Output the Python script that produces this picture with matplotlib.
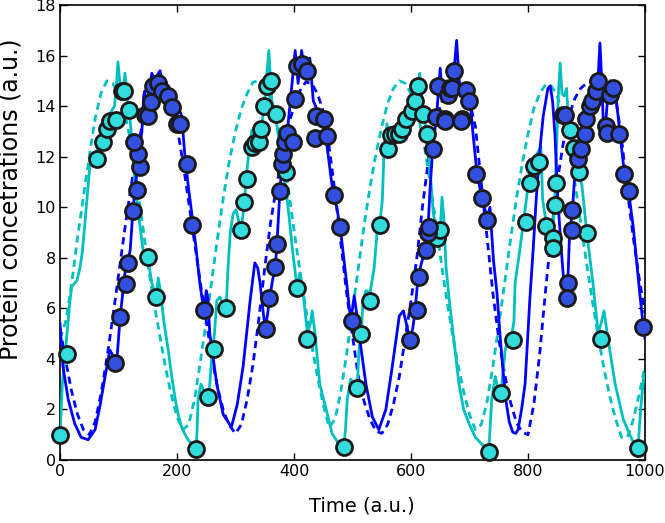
import matplotlib
matplotlib.use("Agg")
import matplotlib.pyplot as plt

# ---- deterministic (dashed) model curves, sampled every 10 time units ----
det_t = list(range(0, 1001, 10))
det_cyan = [4.8, 5.5, 7.0, 8.8, 10.4, 12.0, 13.5, 14.5, 15.0, 14.9,
            14.5, 13.8, 12.7, 11.2, 9.5, 7.8, 6.3, 5.0, 3.7, 2.6,
            1.7, 1.2, 1.4, 2.4, 3.9, 5.5, 7.2, 8.9, 10.5, 11.9,
            13.0, 13.9, 14.5, 14.95, 15.0, 14.8, 14.3, 13.5, 12.3, 10.8,
            9.1, 7.5, 6.0, 4.6, 3.3, 2.2, 1.3, 1.6, 2.7, 4.2,
            5.9, 7.6, 9.3, 10.8, 12.1, 13.2, 14.1, 14.7, 15.0, 14.9,
            14.5, 13.8, 12.8, 11.4, 9.8, 8.1, 6.5, 5.1, 3.8, 2.7,
            1.8, 1.2, 1.4, 2.3, 3.7, 5.3, 7.0, 8.7, 10.3, 11.7,
            12.9, 13.9, 14.5, 14.85, 14.8, 14.4, 13.6, 12.5, 11.0, 9.4,
            7.8, 6.3, 4.9, 3.6, 2.5, 1.6, 0.9, 0.9, 1.6, 2.6, 3.7]
det_blue = [5.2, 3.9, 2.7, 1.8, 1.2, 1.0, 1.5, 2.6, 4.0, 5.6,
            7.3, 9.0, 10.6, 12.0, 13.2, 14.3, 14.9, 15.0, 14.8, 14.3,
            13.2, 11.8, 10.2, 8.6, 7.0, 5.5, 4.0, 2.8, 1.9, 1.35,
            1.05, 1.4, 2.4, 3.8, 5.6, 7.6, 9.4, 10.8, 12.1, 13.2,
            14.0, 14.6, 14.95, 14.9, 14.5, 13.8, 12.4, 10.6, 8.6, 6.6,
            4.9, 3.3, 2.3, 1.6, 1.15, 1.05, 1.4, 2.2, 3.3, 4.8,
            6.3, 8.0, 10.1, 11.9, 13.1, 14.0, 14.6, 14.9, 15.0, 14.8,
            14.2, 13.2, 11.0, 8.8, 6.6, 4.8, 3.4, 2.3, 1.5, 1.1,
            1.0, 2.2, 4.2, 6.7, 9.0, 11.0, 12.5, 13.6, 14.3, 14.7,
            14.9, 15.0, 15.0, 14.8, 15.0, 14.3, 12.7, 10.6, 8.8, 7.2, 5.8]

# ---- stochastic (solid) trajectories ----
sto_blue_t = [0, 5, 14, 25, 36, 48, 60, 68, 77, 85, 89, 94, 98, 103, 111, 116, 120,
              125, 130, 136, 140, 143, 145, 147, 152, 157, 162, 166, 171, 176, 180,
              191, 202, 208, 214, 220, 225, 232, 239, 244, 247, 250, 253, 256, 262,
              268, 279, 293, 303, 313, 320, 325, 333, 338, 342, 347, 351, 355, 359,
              364, 368, 371, 376, 381, 388, 393, 398, 402, 407, 413, 419, 423, 427,
              433, 437, 441, 450, 456, 461, 467, 473, 479, 485, 490, 497, 503, 507,
              511, 517, 523, 534, 545, 557, 568, 580, 587, 593, 598, 603, 607, 612,
              618, 624, 629, 632, 637, 644, 650, 654, 661, 667, 672, 678, 684, 689,
              695, 701, 706, 713, 721, 730, 735, 741, 747, 752, 757, 762, 768, 774,
              779, 783, 789, 795, 803, 809, 814, 820, 826, 834, 838, 842, 846, 851,
              857, 862, 865, 868, 871, 876, 880, 885, 890, 895, 900, 906, 911, 917,
              920, 923, 926, 929, 933, 937, 941, 946, 950, 954, 963, 971, 980, 991,
              997, 1000]
sto_blue_y = [5.4, 3.7, 2.4, 1.45, 0.9, 0.8, 1.2, 2.1, 3.3, 4.35, 4.2, 3.8, 4.2, 5.7, 7.4, 7.9, 8.3,
              10.0, 11.1, 12.3, 13.0, 14.4, 14.6, 13.8, 14.5, 15.3, 15.0, 15.2, 15.4, 14.8, 15.0,
              14.4, 14.0, 13.6, 11.9, 10.7, 9.8, 8.5, 7.0, 6.2, 6.0, 6.7, 6.4, 5.0, 4.0,
              3.0, 1.8, 1.3, 2.2, 3.7, 5.2, 6.3, 7.8, 7.6, 7.0, 5.9, 5.2, 5.8, 6.5,
              7.2, 7.6, 8.6, 10.7, 12.1, 12.9, 14.0, 15.2, 16.2, 14.9, 16.2, 15.2, 15.4, 15.9,
              14.2, 14.0, 13.7, 13.2, 12.5, 11.6, 10.5, 10.0, 9.2, 8.0, 7.0, 5.5, 6.5, 5.8,
              5.0, 4.0, 3.0, 1.7, 1.2, 2.0, 3.7, 5.7, 5.9, 5.3, 4.75, 5.2, 5.9, 7.25,
              7.8, 8.3, 9.1, 10.5, 12.3, 13.7, 15.5, 14.2, 15.0, 14.2, 15.0, 16.6, 14.4, 14.9,
              14.6, 14.2, 12.9, 11.3, 10.4, 9.6, 10.0, 7.9, 6.6, 5.0, 3.6, 2.4, 1.5, 1.1,
              1.05, 1.2, 2.0, 3.0, 6.3, 8.4, 10.3, 12.2, 13.6, 14.7, 14.8, 14.2, 12.9, 10.3,
              8.3, 6.8, 6.5, 7.0, 8.9, 9.9, 11.3, 12.3, 12.6, 13.0, 13.5, 14.0, 14.2, 14.6,
              15.2, 16.5, 15.0, 13.2, 13.4, 14.6, 14.8, 14.8, 14.4, 13.6, 11.7, 10.8, 9.2, 6.6,
              5.3, 4.8]

sto_cyan_t = [0, 4, 10, 15, 17, 20, 25, 29, 34, 38, 42, 46, 51, 56, 60, 66, 71, 77, 83,
              88, 93, 96, 99, 102, 104, 108, 111, 114, 117, 120, 125, 130, 137, 142, 150,
              157, 164, 168, 172, 178, 185, 191, 197, 203, 208, 214, 219, 226, 232, 234,
              236, 241, 245, 250, 253, 256, 260, 264, 268, 273, 278, 284, 287, 291, 296,
              301, 305, 309, 314, 318, 322, 325, 328, 333, 338, 344, 349, 352, 357, 362,
              368, 374, 379, 386, 391, 397, 405, 410, 417, 423, 428, 431, 436, 444, 455,
              465, 475, 485, 488, 491, 497, 502, 508, 511, 515, 518, 523, 530, 537, 542,
              547, 551, 554, 559, 563, 568, 573, 578, 584, 590, 595, 601, 607, 612, 615,
              618, 621, 626, 632, 638, 645, 650, 653, 656, 660, 666, 672, 682, 690, 699,
              710, 722, 733, 738, 744, 749, 754, 761, 766, 771, 776, 778, 786, 791, 797,
              800, 805, 810, 815, 820, 822, 825, 831, 838, 843, 846, 849, 852, 855, 858,
              862, 866, 869, 872, 877, 885, 892, 900, 911, 920, 926, 930, 937, 949, 963,
              978, 988, 991, 994, 998, 1000]
sto_cyan_y = [1.0, 3.0, 4.5, 5.8, 6.3, 6.85, 7.0, 7.1, 7.6, 8.2, 9.2, 10.3, 11.6, 11.9, 12.1, 12.4, 12.8, 13.0, 13.3,
              13.8, 14.0, 14.6, 15.75, 15.0, 14.6, 14.6, 15.3, 14.6, 13.8, 13.4, 12.0, 10.5, 9.2, 8.3, 8.0,
              7.0, 6.5, 7.2, 6.6, 5.4, 4.35, 3.3, 2.4, 1.7, 1.3, 1.0, 0.8, 0.6, 0.45, 1.0,
              2.4, 3.0, 2.8, 2.6, 2.6, 3.0, 4.2, 5.0, 6.3, 6.45, 6.2, 6.0, 7.5, 9.0, 9.75,
              9.9, 9.5, 9.1, 9.9, 11.1, 12.0, 12.5, 13.05, 12.7, 12.8, 13.1, 14.0, 14.8, 16.2, 14.2,
              13.7, 12.7, 11.6, 10.8, 9.75, 8.4, 6.85, 7.4, 6.3, 5.0, 5.4, 5.9, 5.0, 3.0, 2.0,
              1.05, 0.7, 0.5, 1.2, 2.4, 3.2, 2.9, 2.85, 4.35, 5.0, 6.3, 6.7, 6.6, 7.6, 9.0,
              9.4, 10.3, 12.3, 13.3, 12.5, 13.0, 12.8, 13.2, 13.0, 13.3, 13.6, 14.0, 14.4, 14.9, 15.3,
              14.4, 13.9, 13.0, 11.6, 9.8, 8.8, 9.1, 10.4, 9.6, 7.6, 6.2, 5.0, 3.0, 2.0, 1.45,
              0.9, 0.6, 0.35, 2.4, 3.3, 2.8, 2.7, 4.35, 4.75, 4.75, 5.5, 7.0, 8.3, 9.2, 10.3,
              10.8, 11.9, 11.8, 12.1, 12.3, 12.4, 10.3, 9.4, 9.0, 9.3, 10.5, 12.5, 14.5, 15.7, 14.5,
              14.4, 14.7, 13.4, 13.0, 12.4, 11.4, 10.9, 9.1, 7.0, 5.0, 5.5, 5.9, 4.75, 3.0, 1.6,
              0.8, 0.47, 1.5, 2.4, 3.3, 3.4]

# ---- sampled measurements (markers) ----
obs_blue_t = [94, 103, 112, 117, 125, 131, 137, 134, 127, 145, 150, 155, 159, 167, 174,
              185, 191, 200, 205, 217, 226, 246,
              352, 358, 367, 371, 376, 379, 381, 385, 388, 398, 401, 405, 413, 422,
              437, 436, 451, 456, 469, 478, 499,
              598, 610, 614, 625, 629, 631, 638, 643, 646, 658, 658, 664, 667, 670, 674,
              687, 686, 694, 699, 711, 721, 730,
              860, 864, 868, 866, 876, 875, 886, 891, 897, 899, 906, 910, 917, 919,
              933, 935, 940, 946, 956, 964, 973, 997]
obs_blue_y = [3.83, 5.65, 6.98, 7.8, 9.85, 10.7, 11.6, 12.1, 12.6, 13.65, 13.6, 14.15, 14.8, 14.9, 14.6,
              14.4, 13.95, 13.3, 13.3, 11.7, 9.3, 5.93,
              5.2, 6.4, 7.65, 8.55, 10.65, 11.7, 12.1, 12.6, 12.95, 12.6, 14.3, 15.6, 15.65, 15.4,
              13.6, 12.75, 13.5, 12.8, 10.5, 9.2, 5.5,
              4.75, 5.93, 7.25, 8.3, 9.0, 9.2, 12.3, 13.55, 14.8, 13.5, 13.4, 14.45, 14.7, 14.7, 15.4,
              13.5, 13.4, 14.65, 14.2, 11.3, 10.35, 9.5,
              13.65, 13.65, 7.0, 6.4, 9.9, 9.1, 11.9, 12.3, 12.9, 13.5, 14.0, 14.2, 14.6, 15.0,
              13.2, 12.95, 14.45, 14.7, 12.9, 11.3, 10.65, 5.27]

obs_cyan_t = [0, 12, 64, 74, 80, 85, 96, 106, 110, 118, 150, 164,
              232, 253, 263, 284, 309, 315, 319, 328, 333, 341, 344, 349, 353, 361,
              369, 386, 405, 422,
              485, 508, 515, 530, 547, 561, 566, 573, 580, 585, 592, 601, 607, 612,
              621, 628, 645, 650,
              734, 753, 774, 796, 804, 810, 818, 831, 843, 843, 846, 848, 872, 878,
              887, 901, 924, 988]
obs_cyan_y = [1.0, 4.2, 11.9, 12.6, 13.1, 13.4, 13.45, 14.6, 14.6, 13.85, 8.05, 6.45,
              0.45, 2.5, 4.4, 6.0, 9.1, 10.2, 11.1, 12.4, 12.55, 12.6, 13.1, 14.0, 14.8, 15.0,
              13.7, 11.4, 6.8, 4.8,
              0.5, 2.85, 4.97, 6.3, 9.3, 12.3, 12.86, 12.9, 12.9, 13.1, 13.5, 13.8, 14.2, 14.8,
              13.7, 12.9, 8.8, 9.1,
              0.3, 2.66, 4.75, 9.4, 10.95, 11.65, 11.8, 9.25, 8.77, 8.4, 10.1, 10.95, 13.05, 12.35,
              11.4, 9.0, 4.8, 0.47]

x_ticks = [0, 200, 400, 600, 800, 1000]
y_ticks = [0, 2, 4, 6, 8, 10, 12, 14, 16, 18]

BLUE = "#0000ff"
CYAN = "#00bfbf"

fig = plt.figure(figsize=(6.65, 5.23), dpi=100)
ax = fig.add_axes([60 / 665, 63 / 523, 585 / 665, 455 / 523])

ax.plot(det_t, det_cyan, color=CYAN, lw=2.0, ls=(0, (2.6, 1.8)), zorder=2)
ax.plot(det_t, det_blue, color=BLUE, lw=2.0, ls=(0, (2.6, 1.8)), zorder=2)
ax.plot(sto_cyan_t, sto_cyan_y, color=CYAN, lw=2.0, zorder=3)
ax.plot(sto_blue_t, sto_blue_y, color=BLUE, lw=2.0, zorder=3)

ax.plot(obs_cyan_t, obs_cyan_y, ls="none", marker="o", ms=11.5, mfc="#33dddd",
        mec="#1a1a1a", mew=2.0, zorder=4, clip_on=False)
ax.plot(obs_blue_t, obs_blue_y, ls="none", marker="o", ms=11.5, mfc="#3350e0",
        mec="#1a1a1a", mew=2.0, zorder=5, clip_on=False)

ax.set_xlim(0, 1000)
ax.set_ylim(0, 18)
ax.set_xticks(x_ticks)
ax.set_yticks(y_ticks)
ax.tick_params(direction="in", top=True, right=True, length=5, width=1,
               labelsize=11.5, pad=3)
for s in ax.spines.values():
    s.set_linewidth(1.2)

ax.set_xlabel("Time (a.u.)", fontsize=14)
ax.set_ylabel("Protein concetrations (a.u.)", fontsize=17)
ax.xaxis.set_label_coords(0.516, -0.08)
ax.yaxis.set_label_coords(-0.064, 0.574)

fig.savefig("out.png", dpi=100)
